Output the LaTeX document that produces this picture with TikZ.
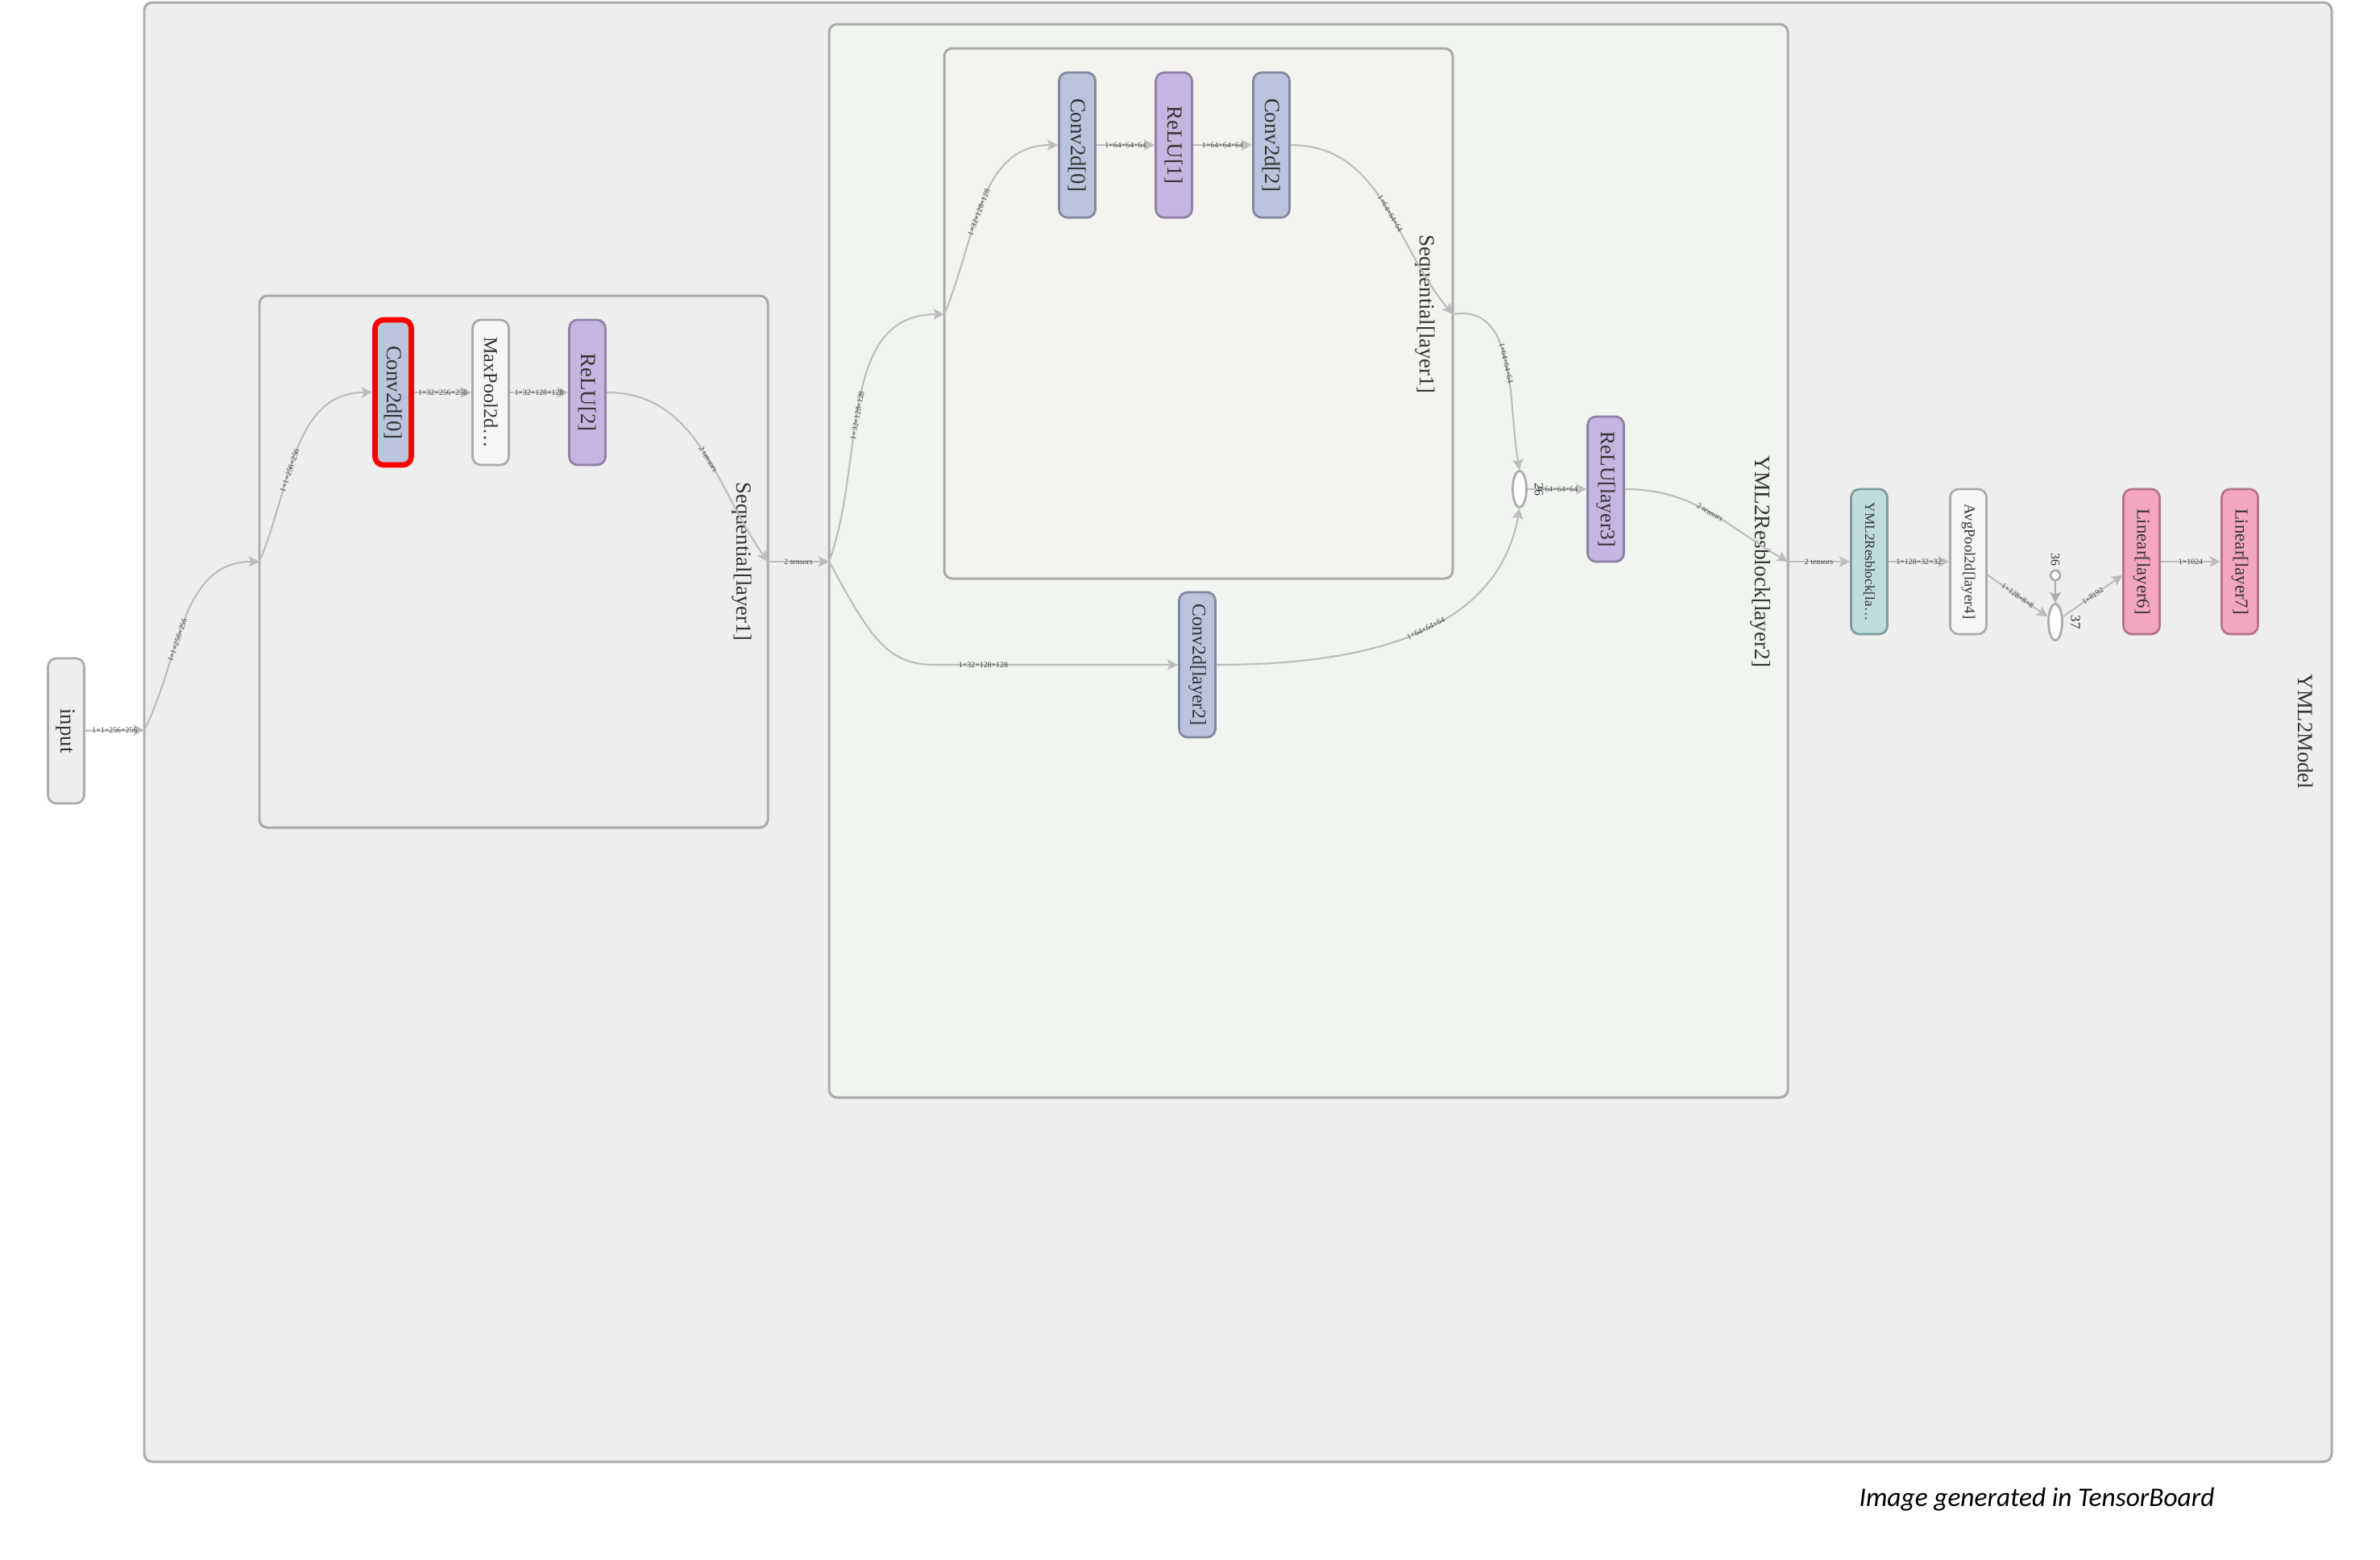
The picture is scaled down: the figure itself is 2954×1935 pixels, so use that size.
\documentclass[tikz,border=0pt]{standalone}
\usepackage{fontspec}
\setmainfont{Liberation Serif}
\newfontfamily\capfont{Carlito}
\usepackage{graphicx}
\usetikzlibrary{arrows.meta, shapes.geometric, positioning}

\definecolor{modelfill}{HTML}{EEEEEE}
\definecolor{resfillbg}{HTML}{F0F5EF}
\definecolor{seqfillbg}{HTML}{F4F3EF}
\definecolor{boxgray}{HTML}{AAAAAA}
\definecolor{edgegray}{HTML}{BDBDBD}
\definecolor{textgray}{HTML}{333333}
\definecolor{labgray}{HTML}{444444}
\definecolor{convfill}{HTML}{BAC4DC}
\definecolor{convdraw}{HTML}{7F889C}
\definecolor{relufill}{HTML}{C5B5E0}
\definecolor{reludraw}{HTML}{8F80A6}
\definecolor{linfill}{HTML}{F4A6C1}
\definecolor{lindraw}{HTML}{B4738D}
\definecolor{resfill}{HTML}{BFDCDD}
\definecolor{resdraw}{HTML}{7E9B9B}
\definecolor{poolfill}{HTML}{F6F6F6}

\newcommand{\vlabel}[1]{\rotatebox{-90}{#1}}

\begin{document}
\begin{tikzpicture}[x=0.01cm, y=-0.01cm,
    groupbox/.style={draw=boxgray, line width=0.85pt, rounded corners=2.8pt},
    layer/.style={rounded corners=3pt, minimum width=0.45cm, minimum height=1.8cm, inner sep=0pt,
        line width=0.77pt, text=textgray, font=\fontsize{7.6}{8}\selectfont},
    convbox/.style={layer, fill=convfill, draw=convdraw},
    relubox/.style={layer, fill=relufill, draw=reludraw},
    poolbox/.style={layer, fill=poolfill, draw=boxgray},
    linbox/.style={layer, fill=linfill, draw=lindraw},
    resbox/.style={layer, fill=resfill, draw=resdraw},
    opnode/.style={ellipse, draw=boxgray, fill=white, line width=0.77pt, minimum width=0.17cm,
        minimum height=0.45cm, inner sep=0pt},
    flow/.style={draw=edgegray, line width=0.6pt, -{Stealth[length=3.8pt,width=3.8pt,inset=0.8pt]}},
    elab/.style={font=\fontsize{2.8}{3}\selectfont, text=labgray, inner sep=0.3pt},
    grouptitle/.style={rotate=-90, font=\fontsize{7.6}{8}\selectfont, text=textgray, inner sep=0pt}
]
\useasboundingbox (0,0) rectangle (2954,1935);

% group boxes
\draw[groupbox, fill=modelfill] (179,3) rectangle (2894,1814);
\draw[groupbox, fill=modelfill] (322,367) rectangle (953,1027);
\draw[groupbox, fill=resfillbg] (1029,30) rectangle (2219,1362);
\draw[groupbox, fill=seqfillbg] (1172,60) rectangle (1803,718);

% group titles
\node[grouptitle] (tmodel) at (2862,908) {YML2Model};
\node[grouptitle] (tseqA) at (921,697) {Sequential[layer1]};
\node[grouptitle, font=\fontsize{7.8}{8}\selectfont] (tres) at (2185,697) {YML2Resblock[layer2]};
\node[grouptitle] (tseqB) at (1769,390) {Sequential[layer1]};

% ports on the group borders
\coordinate (modelin) at (179,906);
\coordinate (seqAin) at (322,697);
\coordinate (seqAout) at (953,697);
\coordinate (resin) at (1029,697);
\coordinate (seqBin) at (1172,390);
\coordinate (seqBout) at (1803,390);
\coordinate (resout) at (2219,697);

% layers
\node[poolbox, fill=modelfill] (input) at (82,907) {\vlabel{input}};
\node[convbox, draw=red, line width=1.9pt] (convA) at (488,487) {\vlabel{Conv2d[0]}};
\node[poolbox, font=\fontsize{6.9}{7}\selectfont] (maxpool) at (609,487) {\vlabel{MaxPool2d…}};
\node[relubox] (reluA) at (729,487) {\vlabel{ReLU[2]}};

\node[convbox] (convB0) at (1337,180) {\vlabel{Conv2d[0]}};
\node[relubox] (reluB1) at (1457,180) {\vlabel{ReLU[1]}};
\node[convbox] (convB2) at (1578,180) {\vlabel{Conv2d[2]}};
\node[convbox, font=\fontsize{6.8}{7}\selectfont] (convskip) at (1486,825) {\vlabel{Conv2d[layer2]}};
\node[opnode] (addop) at (1886,607) {};
\node[font=\fontsize{4.5}{5}\selectfont, text=textgray, rotate=-90, inner sep=0pt] (addid) at (1910,607) {26};
\node[relubox, font=\fontsize{7.3}{8}\selectfont] (reluC) at (1993,607) {\vlabel{ReLU[layer3]}};

\node[resbox, font=\fontsize{4.9}{5}\selectfont] (resblk) at (2320,697) {\vlabel{YML2Resblock[la…}};
\node[poolbox, font=\fontsize{5.3}{6}\selectfont] (avgpool) at (2443,697) {\vlabel{AvgPool2d[layer4]}};
\node[circle, draw=boxgray, fill=white, line width=0.77pt, minimum size=0.12cm, inner sep=0pt] (const) at (2551,714) {};
\node[font=\fontsize{4.5}{5}\selectfont, text=textgray, rotate=-90, inner sep=0pt] (constid) at (2551,694) {36};
\node[opnode] (flat) at (2551,772) {};
\node[font=\fontsize{4.8}{5}\selectfont, text=textgray, rotate=-90, inner sep=0pt] (flatid) at (2576,772) {37};
\node[linbox, font=\fontsize{6.5}{7}\selectfont] (linA) at (2658,697) {\vlabel{Linear[layer6]}};
\node[linbox, font=\fontsize{6.5}{7}\selectfont] (linB) at (2780,697) {\vlabel{Linear[layer7]}};

% connectors
\draw[flow] (input) -- node[elab] {1×1×256×256} (modelin);
\draw[flow] (modelin) to[out=63, in=180] node[elab, sloped, pos=0.4] {1×1×256×256} (seqAin);
\draw[flow] (seqAin) to[out=67, in=180] node[elab, sloped, pos=0.4] {1×1×256×256} (convA.west);
\draw[flow] (convA) -- node[elab] {1×32×256×256} (maxpool);
\draw[flow] (maxpool) -- node[elab] {1×32×128×128} (reluA);
\draw[flow] (reluA.east) to[out=0, in=125] node[elab, sloped, pos=0.55] {2 tensors} (seqAout);
\draw[flow] (seqAout) -- node[elab] {2 tensors} (resin);

\draw[flow] (resin) to[out=70, in=180] node[elab, sloped, pos=0.45] {1×32×128×128} (seqBin);
\draw[flow] (seqBin) to[out=67, in=180] node[elab, sloped, pos=0.45] {1×32×128×128} (convB0.west);
\draw[flow] (convB0) -- node[elab] {1×64×64×64} (reluB1);
\draw[flow] (reluB1) -- node[elab] {1×64×64×64} (convB2);
\draw[flow] (convB2.east) to[out=0, in=130] node[elab, sloped, pos=0.55] {1×64×64×64} (seqBout);
\draw[flow] (seqBout) to[out=10, in=100] node[elab, sloped, pos=0.5] {1×64×64×64} (addop.north);
\draw[flow] (resin) .. controls (1080,790) and (1100,825) .. (1160,825) -- node[elab, pos=0.2] {1×32×128×128} (convskip.west);
\draw[flow] (convskip.east) to[out=0, in=-100] node[elab, sloped, pos=0.55] {1×64×64×64} (addop.south);
\draw[flow] (addop) -- node[elab] {1×64×64×64} (reluC);
\draw[flow] (reluC.east) to[out=0, in=150] node[elab, sloped, pos=0.5] {2 tensors} (resout);

\draw[flow] (resout) -- node[elab] {2 tensors} (resblk);
\draw[flow] (resblk) -- node[elab] {1×128×32×32} (avgpool);
\draw[flow] (avgpool) -- node[elab, sloped] {1×128×8×8} (flat);
\draw[flow, draw=boxgray] (const) -- (flat);
\draw[flow] (flat) -- node[elab, sloped] {1×8192} (linA);
\draw[flow] (linA) -- node[elab] {1×1024} (linB);

% caption
\node[font=\capfont\itshape\fontsize{9.5}{11}\selectfont] (credit) at (2528,1861) {Image generated in TensorBoard};

\end{tikzpicture}
\end{document}
